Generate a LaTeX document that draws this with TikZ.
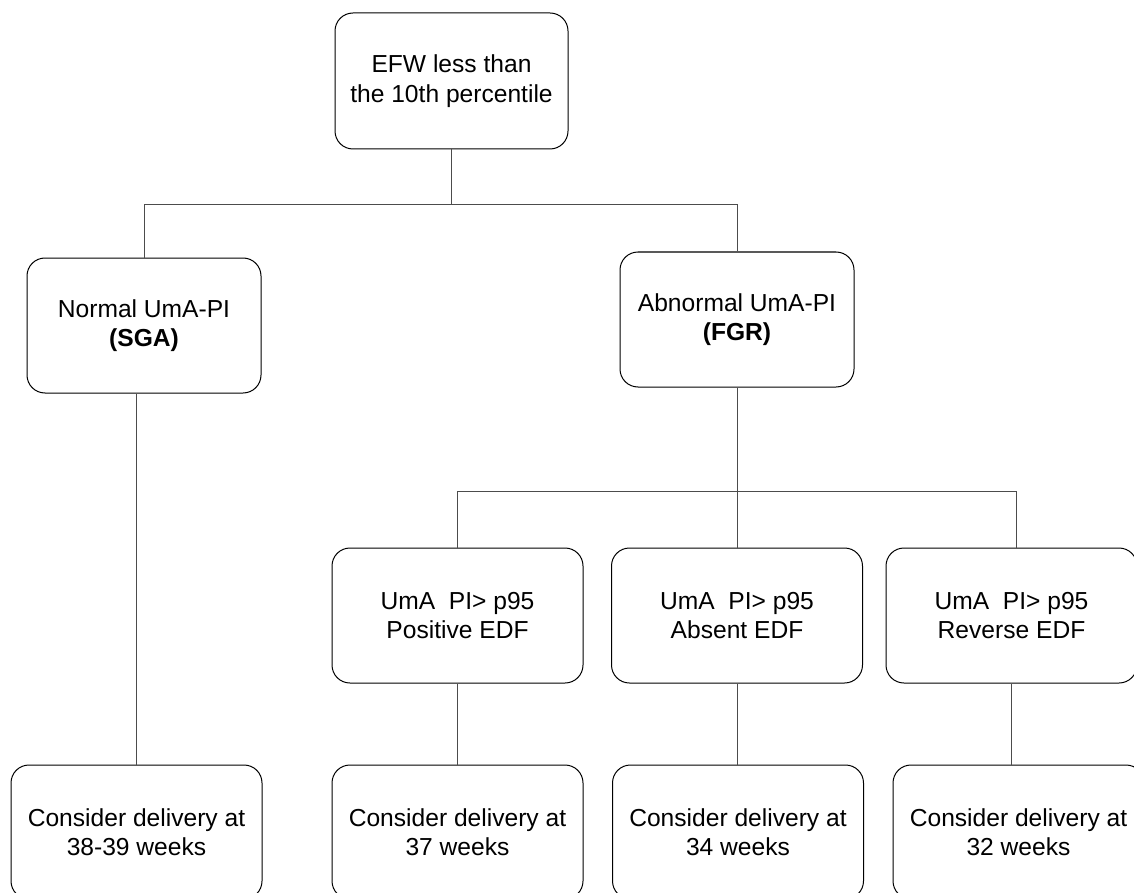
\documentclass[tikz,border=0pt]{standalone}
\usepackage{fontspec}
\setmainfont{Liberation Sans}
\begin{document}
\begin{tikzpicture}[x=1pt,y=-1pt,
  box/.style={draw=black, line width=1pt, rounded corners=18pt, inner sep=0pt,
    align=center, font=\fontsize{24.6}{29.5}\selectfont},
  wbox/.style={box, minimum width=251pt, minimum height=135pt},
  nbox/.style={box, minimum width=234pt, minimum height=135pt},
  link/.style={draw=black!70, line width=1pt}]
\useasboundingbox (0,0) rectangle (1134,893);
\clip (0,0) rectangle (1134,893);
\node[box, minimum width=233pt, minimum height=136pt] (top) at (451.5,81) {EFW less than\\the 10th percentile};
\node[nbox] (sga) at (144,325.5) {Normal UmA-PI\\\textbf{(SGA)}};
\node[nbox] (fgr) at (737,319.5) {Abnormal UmA-PI\\\textbf{(FGR)}};
\node[wbox] (p1) at (457.5,615.5) {UmA~~PI> p95\\Positive EDF};
\node[wbox] (p2) at (737,615.5) {UmA~~PI> p95\\Absent EDF};
\node[wbox] (p3) at (1011.5,615.5) {UmA~~PI> p95\\Reverse EDF};
\node[wbox, minimum height=134pt] (b1) at (136.5,832) {Consider delivery at\\38-39 weeks};
\node[wbox, minimum height=134pt] (b2) at (457.5,832) {Consider delivery at\\37 weeks};
\node[wbox, minimum height=134pt] (b3) at (738,832) {Consider delivery at\\34 weeks};
\node[wbox, minimum height=134pt] (b4) at (1018.5,832) {Consider delivery at\\32 weeks};
\coordinate (j1) at (451.5,205);
\coordinate (j2) at (737,491);
\coordinate (p3in) at (1016,548);
\draw[link] (top.south) -- (j1);
\draw[link] (sga.north) -- (sga.north |- j1) -- (fgr.north |- j1) -- (fgr.north);
\draw[link] (b1.north) -- (b1.north |- sga.south);
\draw[link] (fgr.south) -- (j2);
\draw[link] (p1.north) -- (p1.north |- j2) -- (p3in |- j2) -- (p3in);
\draw[link] (j2) -- (p2.north);
\draw[link] (p1.south) -- (p1.south |- b2.north);
\draw[link] (p2.south) -- (p2.south |- b3.north);
\draw[link] (p3.south) -- (p3.south |- b4.north);
\end{tikzpicture}
\end{document}
